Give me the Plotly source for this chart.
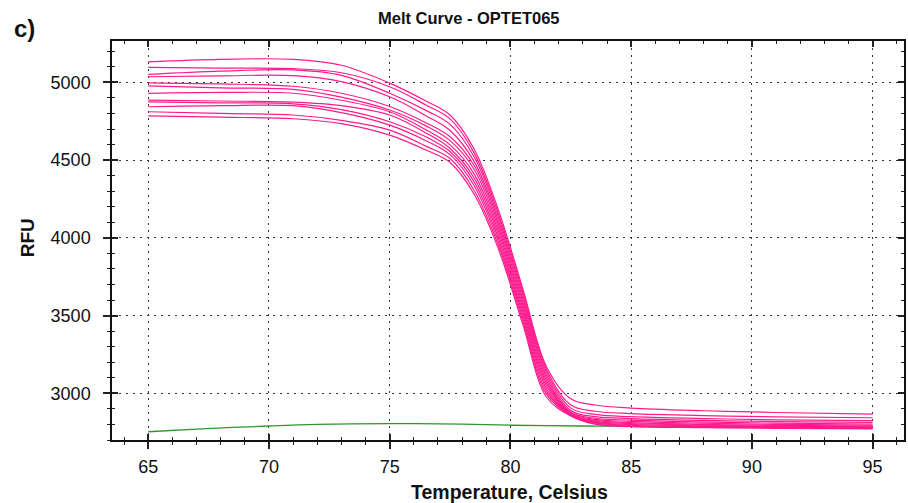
import plotly.graph_objects as go

# ---------------- data ----------------
TEMP = [65, 68, 71, 73, 75, 76.5, 77.5, 78.5, 79.5, 80.5, 81.5, 82.5, 83.5, 85, 88, 91, 95]

WELL_A = [5132, 5148, 5148, 5110, 4995, 4880, 4790, 4570, 4180, 3680, 3170, 2965, 2925, 2905, 2888, 2877, 2866]
WELL_B = [5096, 5092, 5088, 5062, 4972, 4855, 4765, 4545, 4157, 3659, 3152, 2925, 2885, 2870, 2857, 2849, 2843]
WELL_C = [5051, 5072, 5080, 5045, 4930, 4820, 4730, 4520, 4135, 3638, 3135, 2905, 2865, 2850, 2838, 2830, 2825]
WELL_D = [5036, 5042, 5043, 5005, 4907, 4785, 4690, 4490, 4112, 3617, 3117, 2890, 2850, 2838, 2826, 2818, 2813]
WELL_E = [4997, 4990, 4975, 4930, 4845, 4740, 4650, 4465, 4089, 3596, 3099, 2880, 2840, 2828, 2816, 2808, 2803]
WELL_F = [4978, 4965, 4955, 4905, 4822, 4720, 4625, 4440, 4066, 3575, 3081, 2873, 2833, 2820, 2808, 2800, 2796]
WELL_G = [4929, 4935, 4930, 4885, 4811, 4695, 4598, 4410, 4044, 3555, 3064, 2868, 2826, 2812, 2801, 2794, 2790]
WELL_H = [4886, 4880, 4873, 4850, 4790, 4675, 4575, 4385, 4021, 3534, 3046, 2864, 2820, 2806, 2796, 2789, 2785]
WELL_I = [4875, 4868, 4862, 4825, 4747, 4650, 4555, 4360, 3998, 3513, 3028, 2861, 2815, 2800, 2791, 2785, 2781]
WELL_J = [4843, 4850, 4850, 4805, 4725, 4625, 4535, 4335, 3975, 3492, 3011, 2860, 2810, 2795, 2787, 2781, 2778]
WELL_K = [4811, 4800, 4790, 4755, 4693, 4590, 4510, 4305, 3953, 3471, 2993, 2858, 2806, 2790, 2783, 2778, 2775]
WELL_L = [4785, 4776, 4766, 4735, 4661, 4565, 4485, 4280, 3930, 3450, 2975, 2855, 2802, 2786, 2780, 2775, 2772]

PINK_WELLS = [WELL_A, WELL_B, WELL_C, WELL_D, WELL_E, WELL_F,
              WELL_G, WELL_H, WELL_I, WELL_J, WELL_K, WELL_L]

GREEN_T = [65, 67, 70, 72, 75, 78, 80, 83, 85, 90, 95]
GREEN_RFU = [2753, 2770, 2790, 2800, 2805, 2802, 2795, 2790, 2788, 2785, 2783]

X_TICKS = [65, 70, 75, 80, 85, 90, 95]
Y_TICKS = [3000, 3500, 4000, 4500, 5000]

TITLE = "Melt Curve - OPTET065"
X_TITLE = "Temperature, Celsius"
Y_TITLE = "RFU"
PANEL = "c)"

# ---------------- figure ----------------
X_RANGE = [63.5, 96.3]
Y_RANGE = [2700, 5266]
FONT = "Liberation Sans, Arial, sans-serif"
PINK = "#FF1A8C"
GREEN = "#2E962E"

fig = go.Figure()

fig.add_trace(go.Scatter(x=GREEN_T, y=GREEN_RFU, mode="lines",
                         line=dict(color=GREEN, width=1.3, shape="spline"),
                         showlegend=False, hoverinfo="skip"))
for w in PINK_WELLS:
    fig.add_trace(go.Scatter(x=TEMP, y=w, mode="lines",
                             line=dict(color=PINK, width=1.2, shape="spline", smoothing=1.0),
                             showlegend=False, hoverinfo="skip"))

# dummy trace to activate overlay axes (inside ticks)
fig.add_trace(go.Scatter(x=[], y=[], xaxis="x2", yaxis="y2", showlegend=False))

grid = dict(showgrid=True, gridcolor="#333333", gridwidth=1, griddash="2px,5px")

fig.update_layout(
    width=908, height=503,
    margin=dict(l=112, r=2, t=41, b=63),
    paper_bgcolor="white", plot_bgcolor="white",
    font=dict(family=FONT, color="#111111"),
    xaxis=dict(range=X_RANGE, tickvals=X_TICKS, ticks="outside", ticklen=7,
               tickwidth=2, tickcolor="#222222",
               minor=dict(dtick=1, tick0=65, ticks="outside", ticklen=3,
                          tickwidth=1, tickcolor="#222222", showgrid=False),
               showline=True, linecolor="#111111", linewidth=1.5, mirror=True,
               zeroline=False, tickfont=dict(size=18, family=FONT, color="#111111"),
               ticklabelstandoff=3, **grid),
    yaxis=dict(range=Y_RANGE, tickvals=Y_TICKS, ticks="outside", ticklen=7,
               tickwidth=2, tickcolor="#222222",
               minor=dict(dtick=100, tick0=3000, ticks="outside", ticklen=3,
                          tickwidth=1, tickcolor="#222222", showgrid=False),
               showline=True, linecolor="#111111", linewidth=1.5, mirror=True,
               zeroline=False, tickfont=dict(size=18, family=FONT, color="#111111"),
               ticklabelstandoff=9, **grid),
    xaxis2=dict(range=X_RANGE, overlaying="x", anchor="y2", side="bottom",
                tickvals=X_TICKS, ticks="inside", ticklen=6, tickwidth=2,
                tickcolor="#222222", mirror="ticks",
                minor=dict(dtick=1, tick0=65, ticks="inside", ticklen=3,
                           tickwidth=1, tickcolor="#222222", showgrid=False),
                showticklabels=False, showgrid=False, showline=False, zeroline=False),
    yaxis2=dict(range=Y_RANGE, overlaying="y", anchor="x2", side="left",
                tickvals=Y_TICKS, ticks="inside", ticklen=6, tickwidth=2,
                tickcolor="#222222", mirror="ticks",
                minor=dict(dtick=100, tick0=3000, ticks="inside", ticklen=3,
                           tickwidth=1, tickcolor="#222222", showgrid=False),
                showticklabels=False, showgrid=False, showline=False, zeroline=False),
    annotations=[
        dict(text="<b>%s</b>" % TITLE, xref="paper", yref="paper",
             x=(470 - 112) / 794, y=1 + (41 - 18) / 399, xanchor="center", yanchor="middle",
             showarrow=False, font=dict(size=16.5, family=FONT, color="#111111")),
        dict(text="<b>%s</b>" % PANEL, xref="paper", yref="paper",
             x=(12 - 112) / 794, y=1 + (41 - 28) / 399, xanchor="left", yanchor="middle",
             showarrow=False, font=dict(size=24, family=FONT, color="#111111")),
        dict(text="<b>%s</b>" % Y_TITLE, xref="paper", yref="paper",
             x=(27 - 112) / 794, y=(440 - 238) / 399, xanchor="center", yanchor="middle",
             textangle=-90, showarrow=False, font=dict(size=19, family=FONT, color="#111111")),
        dict(text="<b>%s</b>" % X_TITLE, xref="paper", yref="paper",
             x=(511 - 112) / 794, y=-(492 - 440) / 399, xanchor="center", yanchor="middle",
             showarrow=False, font=dict(size=19.5, family=FONT, color="#111111")),
    ],
)

fig.write_html("out.html")
